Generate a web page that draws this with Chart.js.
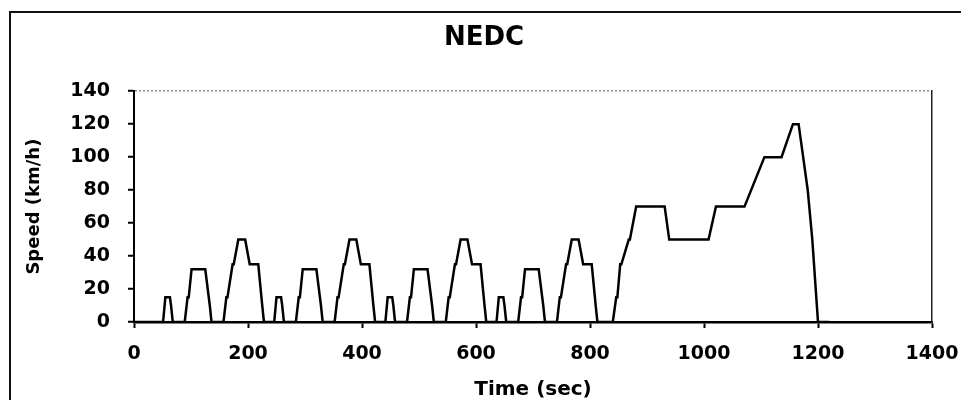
<!DOCTYPE html>
<html>
<head>
<meta charset="utf-8">
<script src="https://cdn.jsdelivr.net/npm/chart.js@4.4.0/dist/chart.umd.min.js"></script>
<style>
    body { margin: 0; background: #fff; }
    #wrap { position: relative; width: 961px; height: 400px; }
    #frame {
        position: absolute; left: 9px; top: 11px; width: 980px; height: 420px;
        border-left: 2px solid #111; border-top: 2px solid #111;
        pointer-events: none;
    }
</style>
</head>
<body>
<div id="wrap">
    <canvas id="nedcChart" width="961" height="400"></canvas>
    <div id="frame"></div>
</div>
<script>
// NEDC speed profile: 40 s idle, 4 x ECE-15 urban cycles, then EUDC
const timeSec = [
    0,
    40, 51, 55, 63, 65, 68, 89, 94, 96, 101, 125, 133, 136, 157, 162, 164, 173, 175, 183, 195, 203, 216, 218, 225, 228,
    235, 246, 250, 258, 260, 263, 284, 289, 291, 296, 320, 328, 331, 352, 357, 359, 368, 370, 378, 390, 398, 411, 413, 420, 423,
    430, 441, 445, 453, 455, 458, 479, 484, 486, 491, 515, 523, 526, 547, 552, 554, 563, 565, 573, 585, 593, 606, 608, 615, 618,
    625, 636, 640, 648, 650, 653, 674, 679, 681, 686, 710, 718, 721, 742, 747, 749, 758, 760, 768, 780, 788, 801, 803, 810, 813,
    820, 840, 846, 848, 853, 855, 868, 870, 881, 931, 939, 1008, 1021, 1071, 1106, 1136, 1156, 1166, 1182, 1190, 1200, 1220
];
const speedKmh = [
    0,
    0, 0, 15, 15, 10, 0, 0, 15, 15, 32, 32, 10, 0, 0, 15, 15, 35, 35, 50, 50, 35, 35, 35, 10, 0,
    0, 0, 15, 15, 10, 0, 0, 15, 15, 32, 32, 10, 0, 0, 15, 15, 35, 35, 50, 50, 35, 35, 35, 10, 0,
    0, 0, 15, 15, 10, 0, 0, 15, 15, 32, 32, 10, 0, 0, 15, 15, 35, 35, 50, 50, 35, 35, 35, 10, 0,
    0, 0, 15, 15, 10, 0, 0, 15, 15, 32, 32, 10, 0, 0, 15, 15, 35, 35, 50, 50, 35, 35, 35, 10, 0,
    0, 0, 15, 15, 35, 35, 50, 50, 70, 70, 50, 50, 70, 70, 100, 100, 120, 120, 80, 50, 0, 0
];
const xTickValues = [0, 200, 400, 600, 800, 1000, 1200, 1400];
const yTickValues = [0, 20, 40, 60, 80, 100, 120, 140];

const FONT = "'DejaVu Sans', sans-serif";

const points = timeSec.map((t, i) => ({ x: t, y: speedKmh[i] }));

const ctx = document.getElementById('nedcChart').getContext('2d');
new Chart(ctx, {
    type: 'line',
    data: {
        datasets: [{
            label: 'NEDC',
            data: points,
            borderColor: '#000',
            borderWidth: 2.5,
            pointRadius: 0,
            tension: 0,
            fill: false
        }]
    },
    options: {
        responsive: false,
        animation: false,
        layout: { padding: { left: 16, right: 9, top: 0, bottom: 0 } },
        plugins: {
            legend: { display: false },
            tooltip: { enabled: false },
            title: {
                display: true,
                text: 'NEDC',
                color: '#000',
                font: { family: FONT, size: 26, weight: 'bold' },
                padding: { top: 23, bottom: 37 }
            }
        },
        scales: {
            x: {
                type: 'linear',
                min: 0,
                max: 1400,
                afterBuildTicks: scale => { scale.ticks = xTickValues.map(v => ({ value: v })); },
                afterFit: scale => {
                    scale.height = 78;
                    scale.paddingLeft = 0;
                    scale.paddingRight = 0;
                },
                ticks: {
                    color: '#000',
                    padding: 15,
                    maxRotation: 0,
                    callback: v => String(v),
                    font: { family: FONT, size: 19, weight: 'bold' }
                },
                grid: {
                    drawOnChartArea: false,
                    tickLength: 6,
                    tickColor: '#000',
                    tickWidth: 2
                },
                border: { color: '#000', width: 2.5 },
                title: {
                    display: true,
                    text: 'Time (sec)',
                    color: '#000',
                    font: { family: FONT, size: 20, weight: 'bold', lineHeight: 1 },
                    padding: { top: 0, bottom: 0 }
                }
            },
            y: {
                min: 0,
                max: 140,
                afterBuildTicks: scale => { scale.ticks = yTickValues.map(v => ({ value: v })); },
                afterFit: scale => { scale.width = 118; },
                ticks: {
                    color: '#000',
                    padding: 18,
                    callback: v => String(v),
                    font: { family: FONT, size: 19, weight: 'bold' }
                },
                grid: {
                    color: c => (c.tick && c.tick.value === 140 ? '#8a8a8a' : 'rgba(0,0,0,0)'),
                    lineWidth: 1.5,
                    tickLength: 6,
                    tickColor: '#000',
                    tickWidth: 2,
                    tickBorderDash: []
                },
                border: { color: '#000', width: 2, dash: [2, 2] },
                title: {
                    display: true,
                    text: 'Speed (km/h)',
                    color: '#000',
                    font: { family: FONT, size: 18, weight: 'bold' },
                    padding: { top: 8, bottom: 0 }
                }
            },
            yRight: {
                position: 'right',
                display: true,
                min: 0,
                max: 140,
                afterFit: scale => { scale.width = 20; },
                ticks: { display: false },
                grid: { display: false },
                border: { color: '#222', width: 1.5 }
            }
        }
    }
});
</script>
</body>
</html>
